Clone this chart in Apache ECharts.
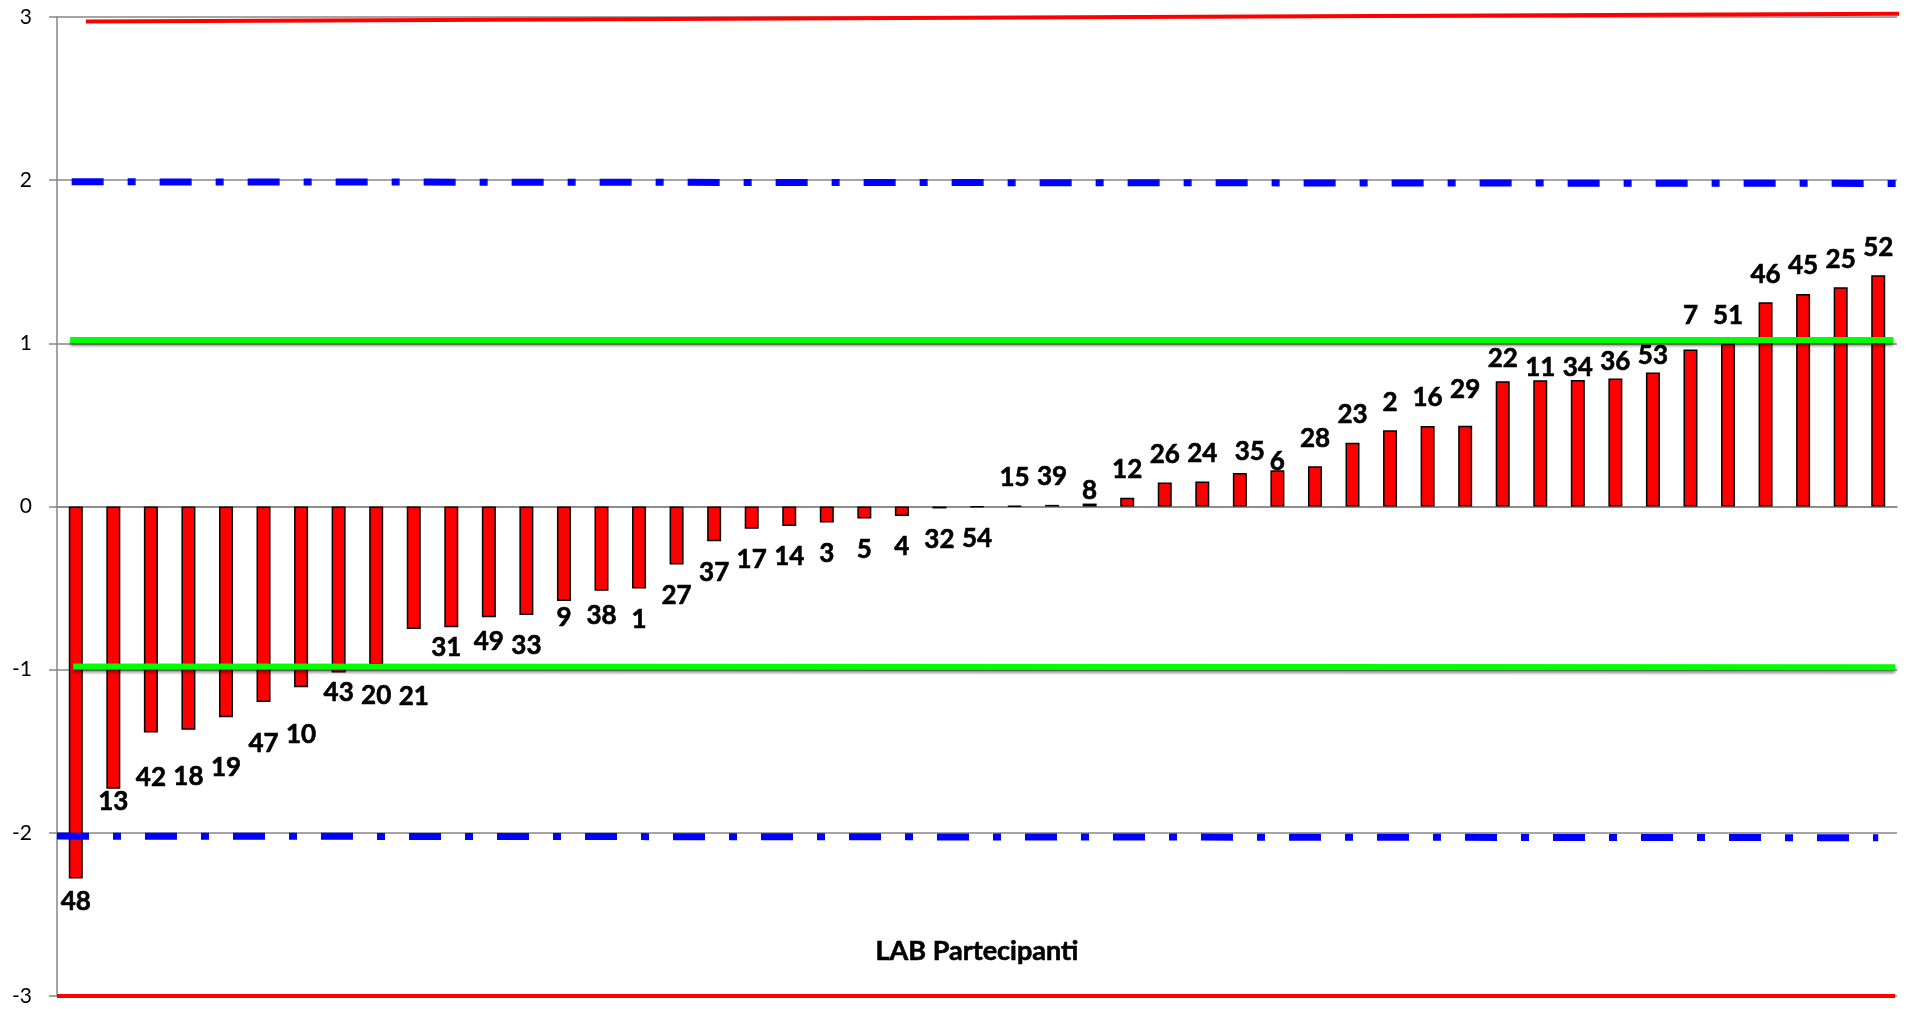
<!DOCTYPE html>
<html>
<head>
<meta charset="utf-8">
<title>LAB Partecipanti</title>
<script src="https://cdn.jsdelivr.net/npm/echarts@6/dist/echarts.min.js"></script>
<style>
  html, body { margin: 0; padding: 0; background: #ffffff; }
  #chart { width: 1917px; height: 1009px; }
</style>
</head>
<body>
<div id="chart"></div>
<script>
// Laboratory codes, sorted by z-score
const labs = ['48','13','42','18','19','47','10','43','20','21','31','49','33','9','38','1','27','37','17','14',
              '3','5','4','32','54','15','39','8','12','26','24','35','6','28','23','2','16','29','22','11',
              '34','36','53','7','51','46','45','25','52'];

// z-score of each laboratory
const zScores = [-2.28,-1.73,-1.385,-1.368,-1.292,-1.198,-1.108,-1.017,-0.97,-0.75,-0.74,-0.678,-0.665,-0.579,-0.517,-0.502,-0.355,-0.213,-0.136,-0.12,
                 -0.098,-0.074,-0.058,-0.012,-0.004,0.003,0.01,0.018,0.053,0.147,0.153,0.206,0.222,0.247,0.39,0.468,0.494,0.495,0.768,0.774,
                 0.776,0.784,0.821,0.962,0.999,1.252,1.303,1.344,1.417];

// Value-axis ticks
const yTicks = [-3, -2, -1, 0, 1, 2, 3];

// Limit lines: [position along the lab axis, z]
const limitRedUpper   = [[0.77, 2.973], [49.11, 3.02]];
const limitRedLower   = [[0.0, -3.0], [48.95, -3.0]];
const limitBlueUpper  = [[0.39, 1.99], [48.97, 1.98]];
const limitBlueLower  = [[0.0, -2.02], [48.5, -2.03]];
const limitGreenUpper = [[0.35, 1.02], [48.9, 1.02]];
const limitGreenLower = [[0.43, -0.98], [48.95, -0.985]];

// Extra spacing (px) between some labels and their bar ends
const labelSpacing = {
  '48': -8, '13': -18, '42': 14, '18': 16, '19': 19, '47': 11, '10': 16, '43': -11,
  '21': 37, '31': -11, '49': -7, '9': -14, '38': -6,
  '8': -15, '35': -7, '6': -19, '29': 8, '22': -5, '11': -15, '34': -16, '36': -11, '53': -11, '7': 6
};
const labelShiftX = { '31': -5, '35': 10 };

const FONT = 'Lato, "Open Sans", sans-serif';
const GRAY = '#878787';

const barData = zScores.map((v, i) => {
  const extra = labelSpacing[labs[i]] || 0;
  const neg = v < 0;
  return {
    value: v,
    label: {
      position: neg ? 'bottom' : 'top',
      distance: (neg ? 18 : 15) + extra,
      offset: [labelShiftX[labs[i]] || 0, 0]
    }
  };
});

function limitLine(data, color, width, dash, shadow) {
  return {
    type: 'line',
    xAxisIndex: 1,
    data: data,
    symbol: 'none',
    silent: true,
    clip: false,
    z: 5,
    lineStyle: Object.assign({
      color: color,
      width: width,
      type: dash || 'solid',
      cap: 'butt'
    }, shadow ? {
      shadowColor: 'rgba(0,0,0,0.45)',
      shadowBlur: 3,
      shadowOffsetY: 3
    } : {}),
    animation: false
  };
}

const chart = echarts.init(document.getElementById('chart'), null, { renderer: 'canvas' });

chart.setOption({
  animation: false,
  backgroundColor: '#ffffff',
  grid: { left: 57, right: 20, top: 17, bottom: 13, containLabel: false },
  xAxis: [
    {
      type: 'category',
      data: labs,
      boundaryGap: true,
      axisLine: { show: true, onZero: true, lineStyle: { color: GRAY, width: 1.5 } },
      axisTick: { show: false },
      axisLabel: { show: false },
      splitLine: { show: false }
    },
    {
      type: 'value',
      min: 0,
      max: labs.length,
      show: false
    }
  ],
  yAxis: {
    type: 'value',
    min: yTicks[0],
    max: yTicks[yTicks.length - 1],
    interval: 1,
    axisLine: { show: true, onZero: false, lineStyle: { color: GRAY, width: 1.5 } },
    axisTick: { show: true, length: 8, lineStyle: { color: GRAY, width: 1.5 } },
    axisLabel: {
      color: '#000000',
      fontFamily: FONT,
      fontSize: 21,
      margin: 25
    },
    splitLine: { show: true, lineStyle: { color: GRAY, width: 1.5 } }
  },
  graphic: [
    {
      type: 'text',
      x: 977,
      y: 951,
      style: {
        text: 'LAB Partecipanti',
        fill: '#000000',
        stroke: '#000000',
        lineWidth: 0.6,
        font: 'bold 27px ' + FONT,
        textAlign: 'center',
        textVerticalAlign: 'middle'
      }
    }
  ],
  series: [
    {
      type: 'bar',
      data: barData,
      barWidth: 14,
      z: 2,
      itemStyle: { color: '#ff0000', borderColor: '#000000', borderWidth: 1.5 },
      label: {
        show: true,
        color: '#000000',
        textBorderColor: '#000000',
        textBorderWidth: 0.6,
        fontFamily: FONT,
        fontWeight: 'bold',
        fontSize: 26,
        lineHeight: 26,
        formatter: p => labs[p.dataIndex]
      }
    },
    limitLine(limitRedUpper, '#ff0000', 4),
    limitLine(limitRedLower, '#ff0000', 4),
    limitLine(limitBlueUpper, '#0000ff', 7, [32, 24, 8, 24]),
    limitLine(limitBlueLower, '#0000ff', 7, [32, 24, 8, 24]),
    limitLine(limitGreenUpper, '#00ff00', 6, null, true),
    limitLine(limitGreenLower, '#00ff00', 6, null, true)
  ]
});
</script>
</body>
</html>
